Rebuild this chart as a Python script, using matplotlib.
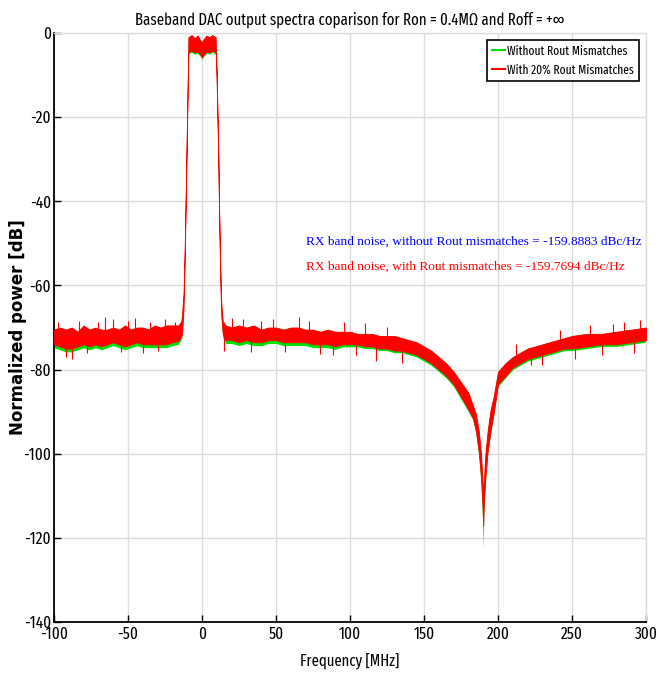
import matplotlib
matplotlib.use("Agg")
import matplotlib.pyplot as plt
from matplotlib import font_manager
from matplotlib.font_manager import FontProperties

# ---------------- data ----------------
freq_mhz = [-100, -96, -92, -88, -84, -80, -76, -72, -68, -64, -60, -56, -52, -48, -44,
            -40, -36, -32, -28, -24, -20, -16, -14, -13.5, -12.5, -12, -11.5, -11, -10.5,
            -10, -9.5, -9.2, -7, -5, -3, -1, 0, 1, 3, 5, 7, 9.2, 9.8, 10.4, 11, 11.5, 12,
            12.5, 13, 14, 16, 20, 25, 30, 35, 40, 45, 50, 55, 60, 65, 70, 75, 80, 85, 90,
            95, 100, 105, 110, 115, 120, 125, 130, 135, 140, 145, 150, 155, 160, 165, 170,
            175, 180, 183, 185, 187, 188.5, 189.5, 190, 190.5, 191.5, 193, 195, 197, 200,
            205, 210, 215, 220, 225, 230, 235, 240, 245, 250, 260, 270, 280, 290, 300]

red_hi = [-70.5, -70, -70.5, -70, -71, -69.5, -70.5, -70, -70.5, -70.5, -70, -70.5, -69.5, -70.5, -70,
          -70, -70.5, -69.5, -70, -69.5, -69.5, -69.5, -68.5, -67, -62, -56, -48, -38, -28,
          -18, -8, -1, -0.5, -1.2, -0.6, -1.8, -2.2, -1.5, -0.6, -1.0, -0.5, -1, -8, -18, -28, -40, -50,
          -58, -64, -68.5, -69.5, -70, -69.5, -70, -69.5, -70.5, -70, -70, -70.5, -70, -70, -70.5, -70.5, -71, -70.5, -71,
          -71, -71, -71.5, -71.5, -71.5, -72, -72, -72, -72.5, -73, -73.5, -74.5, -75.5, -77, -78.5, -80.5,
          -83, -85.5, -88.5, -90.5, -94.5, -100, -106, -110, -106, -100, -94.5, -89.5, -86.5, -80.5,
          -78.5, -77, -76, -75, -74.5, -74, -73.5, -73, -72.5, -72, -71.5, -71.5, -71, -70.5, -70]

red_lo = [-74, -74.5, -75, -75, -74.5, -74, -74.5, -74, -74.5, -74, -73.5, -74, -74.5, -74, -73.5,
          -74, -74, -74, -74, -74, -73.5, -73.2, -72, -71.5, -66, -58, -50, -40, -30,
          -20, -10, -4.5, -4.2, -4.6, -4.4, -5.2, -5.8, -5.2, -4.4, -4.6, -4.2, -4.5, -10, -20, -30, -42, -52,
          -61, -67, -71.5, -73, -73, -73.5, -73, -73.5, -73.5, -73, -73, -73.5, -73.5, -73.5, -73.5, -74, -74, -74, -74.5,
          -74, -74, -74, -74.5, -74.5, -75, -75, -75.5, -75.5, -76, -76.5, -77.5, -78.5, -80, -81.5, -83.5,
          -86.5, -89.5, -91.5, -94.5, -99.5, -105.5, -112, -117, -111, -105.5, -99.5, -94.5, -90.5, -83.5,
          -81.5, -79.5, -78.5, -77.5, -77, -76.5, -76, -75.5, -75, -75, -74.5, -74, -74, -73.5, -73]

green_lo = [-74.8, -75.3, -75.8, -75.8, -75.3, -74.8, -75.3, -74.8, -75.3, -74.8, -74.3, -74.8, -75.3, -74.8, -74.3,
            -74.8, -74.8, -74.8, -74.8, -74.8, -74.3, -74, -72.8, -72.2, -66.5, -58.5, -50.5, -40.5, -30.5,
            -20.5, -10.5, -5, -4.6, -5, -4.8, -5.6, -6.2, -5.6, -4.8, -5, -4.6, -5, -10.5, -20.5, -30.5, -42.5, -52.5,
            -61.5, -67.5, -72.3, -73.8, -73.8, -74.3, -73.8, -74.3, -74.3, -73.8, -73.8, -74.3, -74.3, -74.3, -74.3, -74.8, -74.8, -74.8, -75.2,
            -74.6, -74.6, -74.6, -75, -75, -75.5, -75.5, -76, -76, -76.5, -77, -78, -79, -80.5, -82, -84,
            -87, -90, -92, -95, -100.5, -107, -115, -122.5, -113, -106.5, -100, -95, -91, -84,
            -82, -80, -79, -78, -77.5, -77, -76.5, -76, -75.5, -75.5, -75, -74.5, -74.5, -74, -73.5]

# isolated noise spikes: (freq, base level, tip level)
spike_freq = [-97, -92, -88, -83, -78, -70, -65.5, -60, -55, -50, -45, -40, -35, -30, -25, -18,
              15, 20, 28, 33, 40, 48, 56, 65.7, 72, 80, 88.7, 96, 104, 110, 117.6, 125, 135,
              212, 222, 230, 242, 252, 262, 270, 278, 285, 292, 296]
spike_base = [-72, -72, -72, -72, -72, -72, -71.5, -72, -72, -72, -71.5, -72, -71.5, -72, -71.5, -71.5,
              -71.5, -71.5, -71.5, -71.5, -72, -71.5, -72, -71.5, -72, -72.5, -72.5, -72.5, -73, -73, -73, -73.5, -74,
              -77.5, -76, -75, -74, -73.5, -73, -73, -72.5, -72, -72, -71.5]
spike_tip = [-68.8, -77, -77.5, -68.5, -76, -68.7, -67.5, -68, -75.8, -68.5, -67.8, -76, -68.7, -75.5, -68, -68.8,
             -75.5, -67.8, -68, -75.8, -68.5, -68, -75.8, -67.4, -68.5, -76.2, -76.5, -68.8, -76.5, -69, -78, -69.8, -78.5,
             -74, -79, -79, -70.5, -77.5, -69.5, -76.5, -69.2, -68.8, -76, -68.2]

labels = ["Without Rout Mismatches", "With 20% Rout Mismatches"]
note_blue = "RX band noise, without Rout mismatches = -159.8883 dBc/Hz"
note_red = "RX band noise, with Rout mismatches = -159.7694 dBc/Hz"
title = "Baseband DAC output spectra coparison for Ron = 0.4M\u03a9 and Roff = +\u221e"

xticks = [-100, -50, 0, 50, 100, 150, 200, 250, 300]
yticks = [0, -20, -40, -60, -80, -100, -120, -140]

# ---------------- style ----------------
plt.rcParams['axes.unicode_minus'] = False

# find a narrow / condensed sans font if installed
cands = []
for f in font_manager.fontManager.ttflist:
    nm = f.name.lower()
    st = str(f.stretch).lower()
    fn = f.fname.lower()
    if f.style != "normal":
        continue
    if f.weight not in (400, "normal", "regular"):
        continue
    if "mono" in nm or "serif" in nm:
        continue
    score = None
    if "extracondensed" in fn or "extra-condensed" in st or "extra_condensed" in fn:
        score = 0
    elif "narrow" in nm or "narrow" in fn:
        score = 1
    elif "semicondensed" in fn or "semi-condensed" in st:
        score = 3
    elif "condensed" in nm or "condensed" in fn or st == "condensed":
        score = 2
    if score is not None:
        cands.append((score, f.fname))
cands.sort()
if cands:
    FP = lambda s: FontProperties(fname=cands[0][1], size=s)
else:
    FP = lambda s: FontProperties(family=["Liberation Sans", "DejaVu Sans"], size=s * 0.92)
plt.rcParams['font.family'] = ['Liberation Sans', 'DejaVu Sans']

fig = plt.figure(figsize=(6.58, 6.75), dpi=100)
ax = fig.add_axes([54/658, 1-622/675, (646-54)/658, (622-33)/675])

GREEN = "#00e000"
RED = "#ff0000"

ax.fill_between(freq_mhz, green_lo, red_hi, color=GREEN, lw=0, zorder=2)
ax.fill_between(freq_mhz, red_lo, red_hi, color=RED, lw=0.6, edgecolor=RED, zorder=3)
ax.vlines(spike_freq, spike_base, spike_tip, color=RED, lw=0.8, zorder=3)

ax.plot([], [], color=GREEN, lw=1.5, label=labels[0])
ax.plot([], [], color=RED, lw=1.5, label=labels[1])

ax.set_xlim(-100, 300)
ax.set_ylim(-140, 0)
ax.set_xticks(xticks)
ax.set_yticks(yticks)
ax.grid(True, color="#dcdcdc", lw=1)
ax.set_axisbelow(True)
ax.tick_params(direction="in", length=5, width=1, colors="black")
ax.tick_params(axis="x", pad=3)
ax.tick_params(axis="y", pad=2)
ax.tick_params(top=False, right=False)
for lab in ax.get_xticklabels() + ax.get_yticklabels():
    lab.set_fontproperties(FP(12))
for s in ["top", "right"]:
    ax.spines[s].set_color("#dcdcdc")
    ax.spines[s].set_linewidth(1)
for s in ["left", "bottom"]:
    ax.spines[s].set_color("black")
    ax.spines[s].set_linewidth(1.3)

ax.set_title(title, fontproperties=FP(11.6), pad=6)
ax.set_xlabel("Frequency [MHz]", fontproperties=FP(11.5), labelpad=3)
ax.xaxis.set_label_coords(0.5, -0.052)
ax.set_ylabel("Normalized power [dB]", fontsize=12, fontweight="bold",
              family="DejaVu Sans")
ax.yaxis.set_label_coords(-0.045, 0.5)

leg = ax.legend(loc="upper right", prop=FP(9), handlelength=1.0, handletextpad=0.2,
                borderpad=0.4, labelspacing=0.5, fancybox=False, framealpha=1,
                edgecolor="black", borderaxespad=0.55)
leg.get_frame().set_linewidth(1.2)

ax.text(70.5, -49.7, note_blue, color="#0000ff", fontsize=9.6, family="Liberation Serif",
        va="center", ha="left", zorder=5)
ax.text(70.5, -55.6, note_red, color=RED, fontsize=9.6, family="Liberation Serif",
        va="center", ha="left", zorder=5)

fig.savefig("out.png", dpi=100)
